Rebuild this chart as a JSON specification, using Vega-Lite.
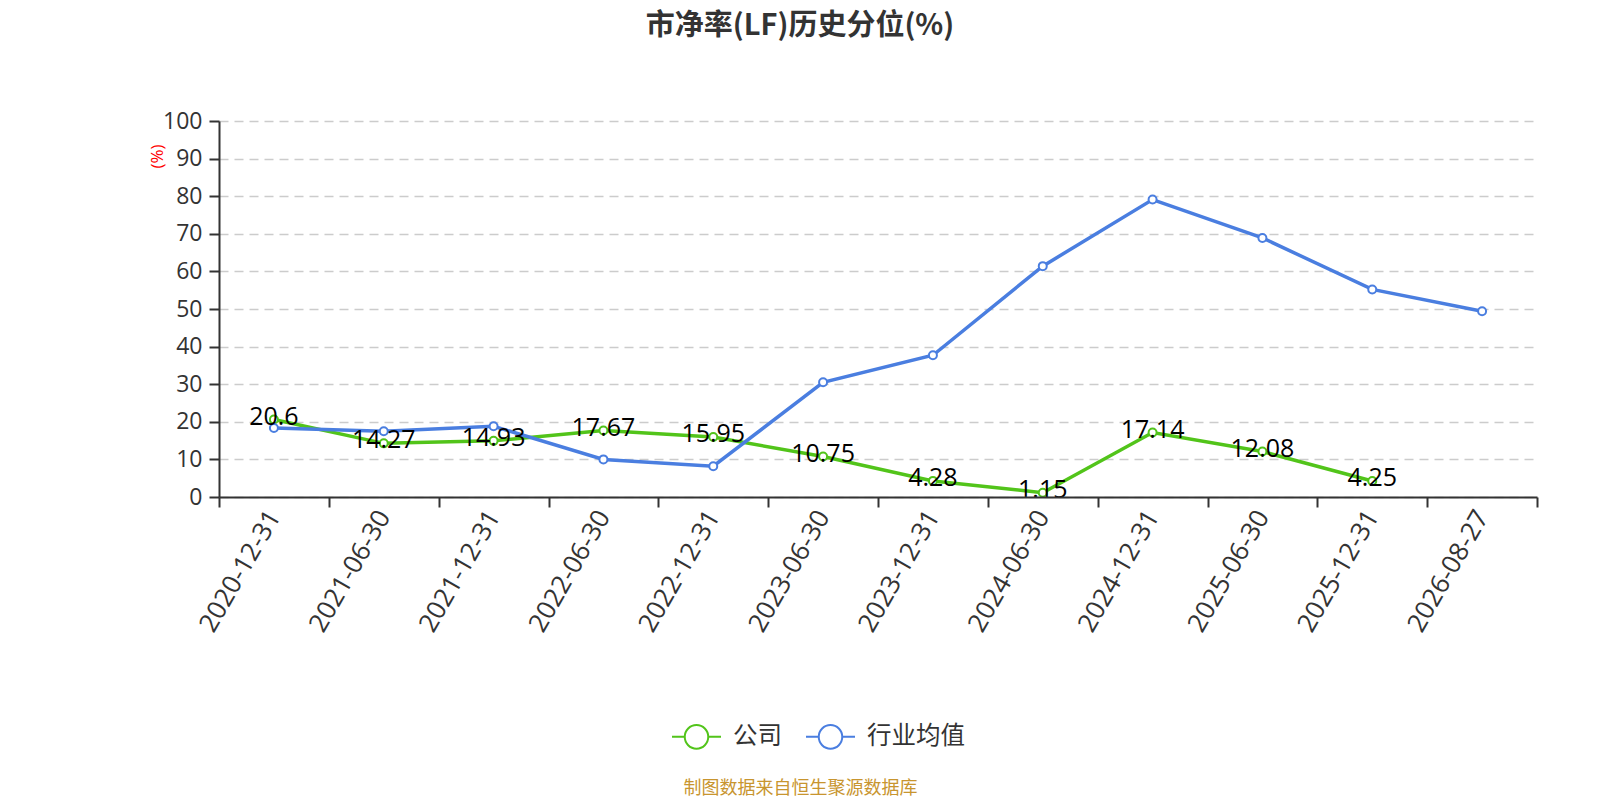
{
  "$schema": "https://vega.github.io/schema/vega-lite/v6.json",
  "autosize": {"type": "none"},
  "width": 1318,
  "height": 376,
  "padding": {"left": 219, "top": 121, "right": 63, "bottom": 303},
  "background": "white",
  "config": {
    "font": "Open Sans, Noto Sans CJK SC",
    "view": {"stroke": null}
  },
  "title": {
    "text": "市净率(LF)历史分位(%)",
    "font": "Noto Sans CJK SC",
    "fontSize": 29,
    "fontWeight": "bold",
    "color": "#333333",
    "anchor": "middle",
    "dx": -78,
    "offset": 55,
    "baseline": "middle"
  },
  "data": {
    "values": [
      {"date": "2020-12-31", "series": "公司", "value": 20.6},
      {"date": "2021-06-30", "series": "公司", "value": 14.27},
      {"date": "2021-12-31", "series": "公司", "value": 14.93},
      {"date": "2022-06-30", "series": "公司", "value": 17.67},
      {"date": "2022-12-31", "series": "公司", "value": 15.95},
      {"date": "2023-06-30", "series": "公司", "value": 10.75},
      {"date": "2023-12-31", "series": "公司", "value": 4.28},
      {"date": "2024-06-30", "series": "公司", "value": 1.15},
      {"date": "2024-12-31", "series": "公司", "value": 17.14},
      {"date": "2025-06-30", "series": "公司", "value": 12.08},
      {"date": "2025-12-31", "series": "公司", "value": 4.25},
      {"date": "2020-12-31", "series": "行业均值", "value": 18.35},
      {"date": "2021-06-30", "series": "行业均值", "value": 17.5},
      {"date": "2021-12-31", "series": "行业均值", "value": 18.8},
      {"date": "2022-06-30", "series": "行业均值", "value": 10.0},
      {"date": "2022-12-31", "series": "行业均值", "value": 8.2},
      {"date": "2023-06-30", "series": "行业均值", "value": 30.5},
      {"date": "2023-12-31", "series": "行业均值", "value": 37.7},
      {"date": "2024-06-30", "series": "行业均值", "value": 61.4},
      {"date": "2024-12-31", "series": "行业均值", "value": 79.1},
      {"date": "2025-06-30", "series": "行业均值", "value": 68.9},
      {"date": "2025-12-31", "series": "行业均值", "value": 55.2},
      {"date": "2026-08-27", "series": "行业均值", "value": 49.4}
    ]
  },
  "encoding": {
    "x": {
      "field": "date",
      "type": "ordinal",
      "scale": {"type": "band", "paddingInner": 0, "paddingOuter": 0},
      "axis": {
        "title": "制图数据来自恒生聚源数据库",
        "titleColor": "#c8952f",
        "titleFont": "Noto Sans CJK SC",
        "titleFontSize": 18,
        "titleFontWeight": "normal",
        "titleX": 581,
        "titleY": 291,
        "titleAlign": "center",
        "titleBaseline": "middle",
        "labelAngle": -60,
        "labelAlign": "right",
        "labelBaseline": "middle",
        "labelFontSize": 26,
        "labelColor": "#333333",
        "labelPadding": 5,
        "tickSize": 10,
        "tickWidth": 2,
        "tickColor": "#333333",
        "tickBand": "extent",
        "domainColor": "#333333",
        "domainWidth": 2,
        "grid": false,
        "zindex": 1
      }
    },
    "y": {
      "field": "value",
      "type": "quantitative",
      "scale": {"domain": [0, 100]},
      "axis": {
        "values": [0, 10, 20, 30, 40, 50, 60, 70, 80, 90, 100],
        "title": "(%)",
        "titleColor": "red",
        "titleFontSize": 17,
        "titleFontWeight": "normal",
        "titleX": -62,
        "titleY": 35,
        "titleAlign": "center",
        "titleBaseline": "middle",
        "labelFontSize": 23,
        "labelColor": "#333333",
        "labelPadding": 7,
        "tickSize": 10,
        "tickWidth": 2,
        "tickColor": "#333333",
        "domainColor": "#333333",
        "domainWidth": 2,
        "gridColor": "#cccccc",
        "gridDash": [9, 6],
        "gridWidth": 1.5
      }
    },
    "color": {
      "field": "series",
      "type": "nominal",
      "scale": {"domain": ["公司", "行业均值"], "range": ["#52c41a", "#4a7ee0"]},
      "legend": {
        "orient": "none",
        "legendX": 452,
        "legendY": 590,
        "direction": "horizontal",
        "title": null,
        "symbolType": "M-1,0L-0.48,0M0.48,0L1,0M-0.48,0A0.48,0.48,0,1,1,0.48,0A0.48,0.48,0,1,1,-0.48,0Z",
        "symbolSize": 2401,
        "symbolStrokeWidth": 2,
        "symbolOpacity": 1,
        "labelFont": "Noto Sans CJK SC",
        "labelFontSize": 24.5,
        "labelColor": "#333333",
        "labelOffset": 11,
        "columnPadding": 20,
        "encode": {
          "symbols": {"update": {"fill": {"value": "white"}, "strokeWidth": {"value": 2}}}
        }
      }
    }
  },
  "layer": [
    {
      "mark": {"type": "line", "strokeWidth": 3.5}
    },
    {
      "mark": {"type": "point", "shape": "circle", "filled": false, "fill": "white", "size": 64, "strokeWidth": 2, "opacity": 1}
    },
    {
      "transform": [{"filter": "datum.series === '公司'"}],
      "mark": {"type": "text", "fontSize": 25, "dy": -3, "color": "#000000"},
      "encoding": {
        "text": {"field": "value", "type": "quantitative"},
        "color": {"value": "#000000"}
      }
    }
  ]
}
